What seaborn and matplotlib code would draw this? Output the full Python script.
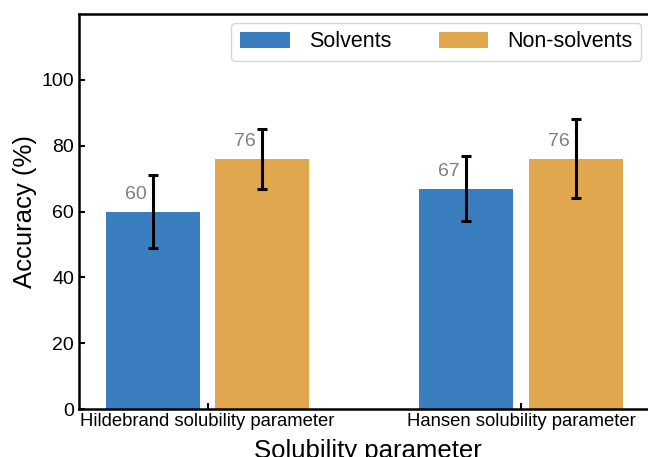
import matplotlib
matplotlib.use("Agg")
import matplotlib.pyplot as plt
import pandas as pd
import seaborn as sns

parameters = ["Hildebrand solubility parameter", "Hansen solubility parameter"]
groups = ["Solvents", "Non-solvents"]
solvent_acc = [60, 67]
nonsolvent_acc = [76, 76]
solvent_err = [11, 10]
nonsolvent_err = [9, 12]

colors = ["#3b7ebf", "#e1a74f"]

df = pd.DataFrame({
    "parameter": parameters * 2,
    "group": [groups[0]] * 2 + [groups[1]] * 2,
    "accuracy": solvent_acc + nonsolvent_acc,
})
errors = {groups[0]: solvent_err, groups[1]: nonsolvent_err}
values = {groups[0]: solvent_acc, groups[1]: nonsolvent_acc}

sns.set_style("white")
plt.rcParams["font.family"] = ["Liberation Sans", "DejaVu Sans"]
plt.rcParams["text.color"] = "black"
plt.rcParams["axes.labelcolor"] = "black"

fig = plt.figure(figsize=(6.48, 4.57), dpi=100)
ax = fig.add_axes([0.122, 0.105, 0.89, 0.864])

sns.barplot(data=df, x="parameter", y="accuracy", hue="group", order=parameters,
            hue_order=groups, palette=colors, width=0.7, gap=1 / 7,
            saturation=1, errorbar=None, linewidth=0, ax=ax)

# error bars + gray value labels on each bar
for container, grp in zip(ax.containers, groups):
    for bar, val, err in zip(container, values[grp], errors[grp]):
        xc = bar.get_x() + bar.get_width() / 2
        ax.errorbar(xc, val, yerr=err, color="black", lw=2.2,
                    capsize=3.5, capthick=2.2, zorder=5)
        ax.text(xc - 0.02, val + 5.3, f"{val}", color="gray",
                fontsize=14, ha="right", va="center")

ax.set_ylim(0, 120)
ax.set_xlim(-0.41, 1.43)
ax.set_yticks([0, 20, 40, 60, 80, 100])
ax.set_xlabel("Solubility parameter", fontsize=18.5, labelpad=6)
ax.set_ylabel("Accuracy (%)", fontsize=18.5, labelpad=3)
ax.tick_params(axis="both", direction="in", length=4, width=1.5, labelsize=14,
               left=True, bottom=True, colors="black")
ax.tick_params(axis="x", pad=3, labelsize=13.3)
for s in ax.spines.values():
    s.set_linewidth(1.8)
    s.set_color("black")

leg = ax.legend(loc="upper right", ncol=2, fontsize=15.5, frameon=True,
                handlelength=2.3, handleheight=0.75, handletextpad=0.9,
                columnspacing=2.2, borderaxespad=0.4, bbox_to_anchor=(0.99, 1.0))
leg.get_frame().set_edgecolor("#cccccc")
leg.get_frame().set_linewidth(1.0)

fig.savefig("out.png", dpi=100)
